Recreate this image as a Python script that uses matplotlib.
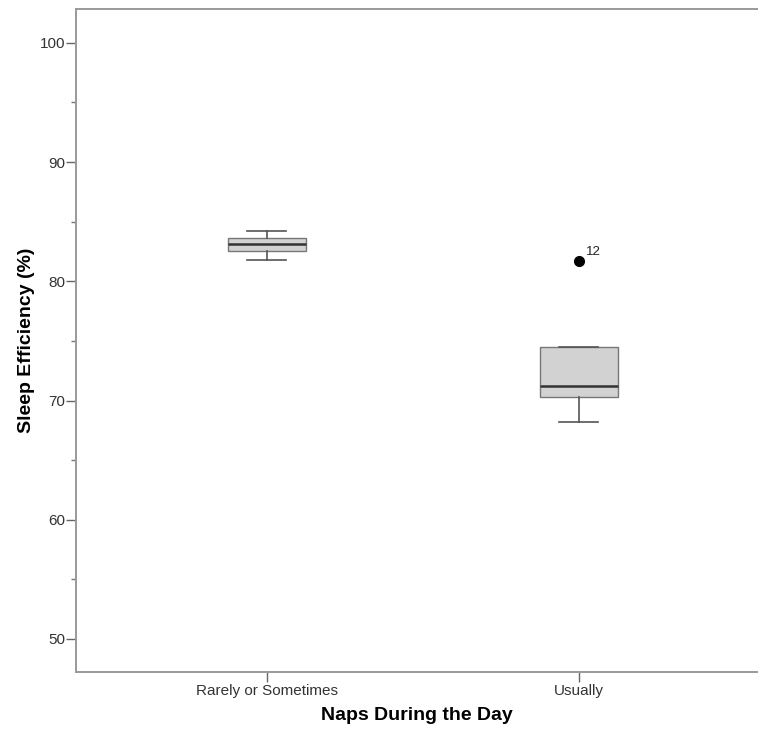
import matplotlib
matplotlib.use("Agg")
import matplotlib.pyplot as plt
from matplotlib.ticker import MultipleLocator

plt.rcParams['font.family'] = ['Liberation Sans', 'DejaVu Sans']

categories = ["Rarely or Sometimes", "Usually"]
whislo = [81.8, 68.2]
q1 = [82.5, 70.3]
med = [83.15, 71.2]
q3 = [83.65, 74.5]
whishi = [84.2, 74.5]
outliers = [[], [81.7]]
outlier_labels = [[], ["12"]]

stats = []
for i, c in enumerate(categories):
    stats.append(dict(label=c, whislo=whislo[i], q1=q1[i], med=med[i],
                      q3=q3[i], whishi=whishi[i], fliers=outliers[i]))

fig = plt.figure(figsize=(7.58, 7.29), dpi=100)
ax = fig.add_axes([0.1003, 0.0782, 0.8997, 0.9088])

edge = "#555555"
ax.bxp(stats, positions=[1, 2], widths=0.25, patch_artist=True,
       boxprops=dict(facecolor="#d2d2d2", edgecolor="#777777", linewidth=1.0),
       medianprops=dict(color="#333333", linewidth=1.8),
       whiskerprops=dict(color=edge, linewidth=1.2),
       capprops=dict(color=edge, linewidth=1.2),
       capwidths=0.125,
       flierprops=dict(marker="o", markerfacecolor="black", markeredgecolor="black",
                       markersize=7))

for i in range(len(categories)):
    for v, lab in zip(outliers[i], outlier_labels[i]):
        ax.annotate(lab, (i + 1, v), xytext=(5, 4), textcoords="offset points",
                    fontsize=9.5, color="#222222")

ax.set_xlim(0.388, 2.574)
ax.set_ylim(47.23, 102.8)
ax.yaxis.set_major_locator(MultipleLocator(10))
ax.yaxis.set_minor_locator(MultipleLocator(5))
ax.set_xticks([1, 2])
ax.set_xticklabels(categories)

ax.spines['right'].set_visible(False)
for s in ['left', 'top', 'bottom']:
    ax.spines[s].set_color("#999999")
    ax.spines[s].set_linewidth(1.4)

ax.tick_params(axis='both', which='major', length=7, color="#666666",
               labelsize=11, labelcolor="#333333", width=1, pad=1)
ax.tick_params(axis='x', which='major', pad=2)
ax.tick_params(axis='y', which='minor', length=3.6, color="#777777", width=1)

ax.set_xlabel("Naps During the Day", fontsize=14, fontweight="bold", labelpad=6)
ax.set_ylabel("Sleep Efficiency (%)", fontsize=14, fontweight="bold", labelpad=3)

fig.savefig("out.png", dpi=100)
